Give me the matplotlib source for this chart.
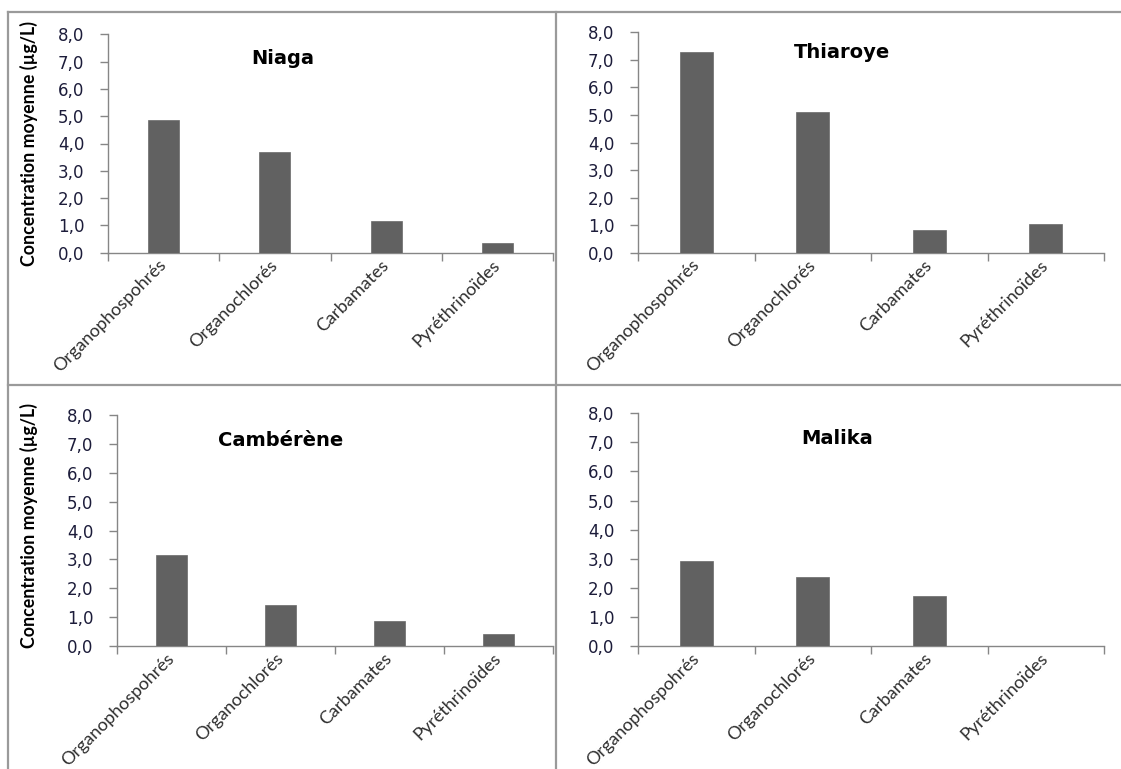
import matplotlib
matplotlib.use('Agg')
import matplotlib.pyplot as plt
from matplotlib.lines import Line2D

# ---- data ----
categories = ['Organophospohrés', 'Organochlorés', 'Carbamates', 'Pyréthrinoïdes']
sites = ['Niaga', 'Thiaroye', 'Cambérène', 'Malika']
niaga = [4.85, 3.68, 1.17, 0.36]
thiaroye = [7.30, 5.12, 0.82, 1.03]
camberene = [3.15, 1.42, 0.88, 0.42]
malika = [2.92, 2.36, 1.71, 0.0]
yticks = [0, 1, 2, 3, 4, 5, 6, 7, 8]
ytick_labels = ['0,0', '1,0', '2,0', '3,0', '4,0', '5,0', '6,0', '7,0', '8,0']
ylabel = 'Concentration moyenne (µg/L)'

W, H = 1121, 769
fig = plt.figure(figsize=(W / 100, H / 100), dpi=100)
fig.patch.set_facecolor('white')

# axes boxes in pixels: (x_left, x_right, y_top(8.0), y_bottom(0.0))
boxes = [
    (108, 553, 34.3, 252.7),
    (638, 1104, 32.3, 252.7),
    (117, 553, 415, 646),
    (638, 1104, 413.3, 646),
]
title_pos = [(283, 58), (842, 53), (281, 441), (837, 439)]
series = [niaga, thiaroye, camberene, malika]

bar_color = '#616161'
axis_color = '#868686'
tick_text = '#1c1c3a'

for i, (box, vals, name, tp) in enumerate(zip(boxes, series, sites, title_pos)):
    xl, xr, yt, yb = box
    ax = fig.add_axes([xl / W, 1 - yb / H, (xr - xl) / W, (yb - yt) / H])
    x = list(range(len(categories)))
    ax.bar(x, vals, width=0.28, color=bar_color, edgecolor='#6a6a6a', linewidth=0.5, zorder=3)
    ax.set_xlim(-0.5, len(categories) - 0.5)
    ax.set_ylim(0, 8)
    ax.set_yticks(yticks)
    ax.set_yticklabels(ytick_labels, fontsize=12, color=tick_text, family='DejaVu Sans')
    ax.tick_params(axis='y', direction='out', length=6, width=1, color=axis_color, pad=11)
    ax.set_xticks(x)
    ax.set_xticks([k - 0.5 for k in range(len(categories) + 1)], minor=True)
    ax.tick_params(axis='x', which='major', length=0, pad=7)
    ax.tick_params(axis='x', which='minor', direction='out', length=6, width=1, color=axis_color)
    ax.set_xticklabels(categories, rotation=45, ha='right', va='center',
                       rotation_mode='anchor', fontsize=13, color='#2e2e2e', family='Lato')
    for sp in ['top', 'right']:
        ax.spines[sp].set_visible(False)
    for sp in ['left', 'bottom']:
        ax.spines[sp].set_color(axis_color)
        ax.spines[sp].set_linewidth(1)
    ax.set_facecolor('none')
    fig.text(tp[0] / W, 1 - tp[1] / H, name, ha='center', va='center',
             fontsize=14, fontweight='bold', family='DejaVu Sans', color='black')

# y labels (left panels only)
for yc in [143, 525]:
    fig.text(29 / W, 1 - yc / H, ylabel, rotation=90, ha='center', va='center',
             fontsize=12.8, fontweight='bold', family='Lato', color='black')

# panel borders
border = '#9a9a9a'
lw = 1.6
fig.add_artist(Line2D([8 / W, 8 / W], [0, 1 - 12 / H], transform=fig.transFigure, color=border, lw=lw))
fig.add_artist(Line2D([8 / W, 1], [1 - 12 / H, 1 - 12 / H], transform=fig.transFigure, color=border, lw=lw))
fig.add_artist(Line2D([556 / W, 556 / W], [0, 1 - 12 / H], transform=fig.transFigure, color=border, lw=lw))
fig.add_artist(Line2D([8 / W, 1], [1 - 385 / H, 1 - 385 / H], transform=fig.transFigure, color=border, lw=lw))

fig.savefig('out.png', dpi=100, facecolor='white')
